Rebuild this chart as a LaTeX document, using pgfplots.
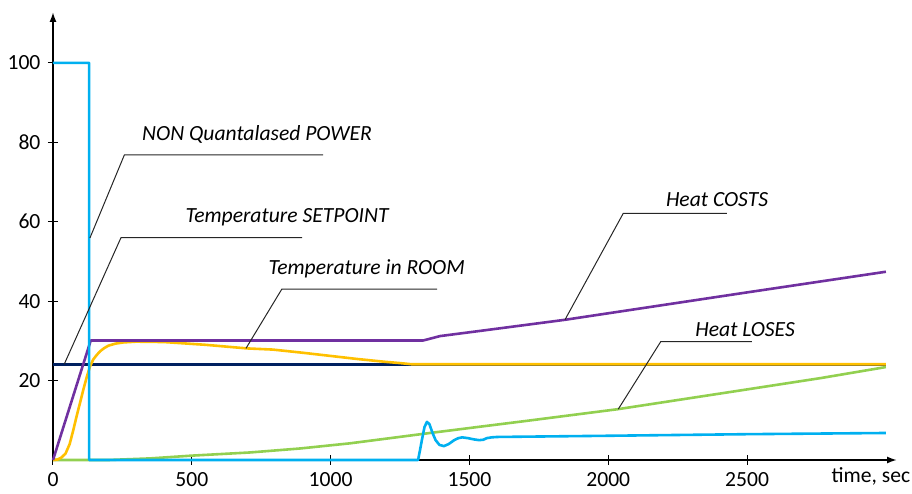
\documentclass[border=0pt]{standalone}
\usepackage{fontspec}
\setmainfont{Carlito}
\usepackage{pgfplots}
\pgfplotsset{compat=1.18}
\usetikzlibrary{arrows.meta}
\definecolor{cpow}{HTML}{00B0F0}
\definecolor{ccost}{HTML}{7030A0}
\definecolor{croom}{HTML}{FFC000}
\definecolor{cset}{HTML}{002060}
\definecolor{closs}{HTML}{92D050}
\begin{document}
\fontsize{10.8}{13}\selectfont
\begin{tikzpicture}
\begin{axis}[
  scale only axis, width=422pt, height=224pt,
  xmin=0, xmax=3040, ymin=0, ymax=112.8,
  axis lines=left,
  axis line style={line width=0.85pt, -{Latex[length=5pt,width=3.5pt]}},
  xtick={0,500,1000,1500,2000,2500}, ytick={20,40,60,80,100},
  tick align=center, major tick length=5pt,
  tick style={black, line width=0.5pt},
  /pgf/number format/assume math mode=true,
  scaled x ticks=false,
  xticklabel style={/pgf/number format/1000 sep={}},
  ticklabel style={font=\fontsize{10.8}{13}\selectfont},
  clip=false,
  every axis plot/.append style={line width=1.3pt, line join=round},
]
% bounding box matching the reference proportions
\path (axis cs:0,0) ++(-26.5pt,-13pt) rectangle ++(456pt,243pt);

% Temperature SETPOINT
\addplot[cset, no marks] coordinates {(0,24) (3000,24)};
% Heat LOSES
\addplot[closs, no marks] coordinates {
(0,0) (200,0) (349,0.4) (500,1.1) (710,1.9) (890,2.9) (1070,4.2) (1369,6.9)
(1700,9.8) (2035,12.8) (2400,16.7) (2763,20.6) (3000,23.4)};
% Temperature in ROOM
\addplot[croom, no marks] coordinates {
(0,0) (15,0.1) (30,0.6) (45,1.6) (60,4.0) (73,7.5) (85,11) (97,14.3) (110,17.9) (122,21) (133,23.5)
(145,25.3) (157,26.4) (170,27.4) (185,28.2) (200,28.8) (225,29.3) (253,29.6) (300,29.8)
(400,29.7) (550,29.0) (698,28.1) (792,27.8) (900,27.0) (1000,26.2) (1100,25.4)
(1200,24.7) (1250,24.4) (1293,24.1) (3000,24.1)};
% Heat COSTS
\addplot[ccost, no marks] coordinates {
(0,0) (136,30.1) (1334,30.1) (1394,31.2) (1538,32.5) (1844,35.3) (2500,42.2) (3000,47.4)};
% NON Quantalased POWER
\addplot[cpow, no marks] coordinates {
(0,100) (130,100) (130,0) (1315,0) (1322,2.5) (1330,5.5) (1338,8.3) (1347,9.6) (1356,9.0)
(1366,7.0) (1378,5.0) (1392,3.8) (1408,3.5) (1425,4.0) (1445,5.0) (1460,5.5) (1474,5.7)
(1495,5.5) (1515,5.2) (1535,5.0) (1550,5.1) (1562,5.5) (1580,5.7) (1600,5.8)
(2000,6.1) (2500,6.5) (3000,6.8)};

% callouts
\begin{scope}[every path/.style={draw=black!85, line width=0.5pt}]
\draw (axis cs:973,76.8) -- (axis cs:257,76.8) -- (axis cs:133,55.9);
\draw (axis cs:897,56.0) -- (axis cs:245,56.0) -- (axis cs:41,24.2);
\draw (axis cs:1384,43.0) -- (axis cs:824,43.0) -- (axis cs:695,28.1);
\draw (axis cs:2427,62.1) -- (axis cs:2054,62.1) -- (axis cs:1844,35.3);
\draw (axis cs:2517,29.8) -- (axis cs:2189,29.8) -- (axis cs:2036,12.8);
\end{scope}
\node[font=\itshape] at (axis cs:735,81.9) {NON Quantalased POWER};
\node[font=\itshape] at (axis cs:843,61.2) {Temperature SETPOINT};
\node[font=\itshape] at (axis cs:1130,48.1) {Temperature in ROOM};
\node[font=\itshape] at (axis cs:2392,65.5) {Heat COSTS};
\node[font=\itshape] at (axis cs:2493,32.9) {Heat LOSES};
\node[anchor=base east, inner sep=0pt, xshift=6.8pt, yshift=-11.5pt] at (rel axis cs:1,0) {time, sec};
\end{axis}
\end{tikzpicture}
\end{document}
